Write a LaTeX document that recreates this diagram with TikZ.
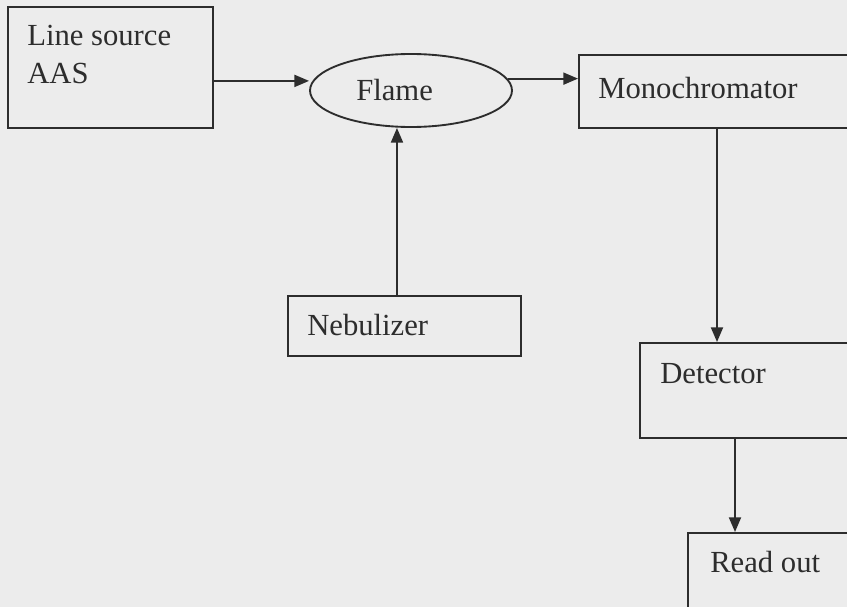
\documentclass[tikz,border=0pt]{standalone}
\usepackage{fontspec}
\setmainfont{Liberation Serif}
\usepackage{xcolor}
\usetikzlibrary{shapes.geometric, arrows.meta}
\definecolor{scanbg}{RGB}{236,236,236}
\definecolor{inkc}{RGB}{45,45,45}

\begin{document}
\begin{tikzpicture}[x=0.75pt,y=0.75pt,yscale=-1,xscale=1,
  blk/.style={draw=inkc, line width=1.4pt, rectangle, inner sep=0pt, anchor=north west},
  ell/.style={draw=inkc, line width=1.4pt, ellipse, inner sep=0pt},
  txt/.style={inner sep=0pt, anchor=base west, text=inkc, font=\fontsize{23}{28.5}\selectfont},
  arr/.style={draw=inkc, line width=1.4pt, -{Triangle[length=11pt,width=9pt]}}]
%set diagram size 847 x 607
\clip (0,0) rectangle (847,607);
\fill[scanbg] (0,0) rectangle (847,607);

% Boxes
\node[blk, minimum width=153.75pt, minimum height=90.75pt] (src) at (7,6) {};
\node[ell, minimum width=151.5pt, minimum height=54.75pt] (flame) at (411,90.5) {};
\node[blk, minimum width=226.5pt, minimum height=54.75pt] (mono) at (578,54) {};
\node[blk, minimum width=174.75pt, minimum height=45pt] (neb) at (287,295) {};
\node[blk, minimum width=180.75pt, minimum height=71.25pt] (det) at (639,342) {};
\node[blk, minimum width=144.75pt, minimum height=66pt] (read) at (687,532) {};

% Text Node
\node[txt, align=left, anchor=north west] (srctxt) at (27,25) {Line source\\AAS};
% Text Node
\node[txt] (flametxt) at (356,100) {Flame};
% Text Node
\node[txt] (monotxt) at (598,98) {Monochromator};
% Text Node
\node[txt] (nebtxt) at (307,335) {Nebulizer};
% Text Node
\node[txt] (dettxt) at (660,383) {Detector};
% Text Node
\node[txt] (readtxt) at (710,572) {Read out};

%Straight Lines
\coordinate (a1) at ([yshift=10.1pt]src.east);
\draw[arr] (a1) -- (a1 -| flame.west);
\draw[arr] (flame.7) -- (flame.7 -| mono.west);
\coordinate (n1) at ([xshift=-5.6pt]neb.north);
\draw[arr] (n1) -- (n1 |- flame.south);
\coordinate (m1) at ([xshift=104.25pt]mono.south west);
\draw[arr] (m1) -- (m1 |- det.north);
\coordinate (d1) at ([xshift=72pt]det.south west);
\draw[arr] (d1) -- (d1 |- read.north);

\end{tikzpicture}
\end{document}
